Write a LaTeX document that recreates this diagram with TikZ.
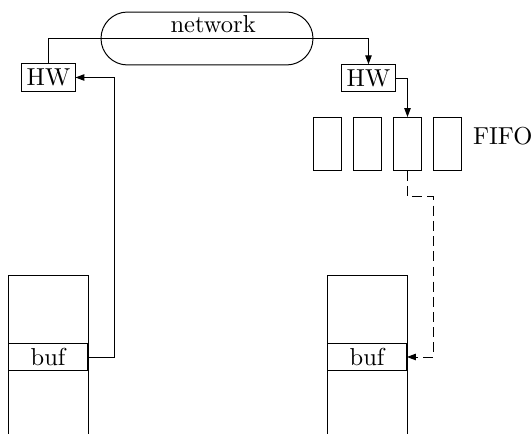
\documentclass[tikz,border=0pt]{standalone}
\usetikzlibrary{arrows.meta,positioning}

\begin{document}
\begin{tikzpicture}[
      x=0.408pt,y=-0.408pt,
      box/.style={draw,inner sep=0pt,outer sep=0pt,minimum width=22pt,minimum height=11.2pt},
      cell/.style={draw,inner sep=0pt,outer sep=0pt,minimum width=11.8pt,minimum height=22pt},
      bufbox/.style={draw,inner sep=0pt,outer sep=0pt,minimum width=32.6pt,minimum height=11.4pt},
      pill/.style={draw,rounded corners=10.8pt,inner xsep=0pt,inner ysep=0pt,
        minimum width=86.5pt,minimum height=21.6pt,text depth=12.2pt},
      arrow/.style={-{Triangle[length=3.6pt,width=2.6pt]}}
    ]
      \useasboundingbox (0,0) rectangle (532,434);
      \node[pill] (net) at (207,38.5) {\hspace*{5pt}network};
      \node[box] (lhw) at (48.5,77.5) {HW};
      \node[box] (rhw) at (368.5,78) {HW};
      % FIFO cells
      \foreach \i in {1,...,4}
        \node[cell] (f\i) at (287.5+40*\i,144) {};
      \node[right=1pt of f4,yshift=3.4pt] (fifo) {FIFO};
      % memory stacks
      \node[bufbox] (lbuf) at (48,357) {buf};
      \node[bufbox] (rbuf) at (367,357) {buf};
      \foreach \b in {lbuf,rbuf}
        \draw (\b.south west) ++(0,64) -- ++(0,-159) -- ++(80,0) -- ++(0,159);
      % connectors
      \draw[arrow] (lhw.north) |- (net.center) -| (rhw.north);
      \draw[arrow] (rhw.east) -| (f3.north);
      \draw[arrow,dash pattern=on 4pt off 2.2pt] (f3.south) -- ++(0,26) -- ++(26,0) |- (rbuf.east);
      \draw[arrow] (lbuf.east) -- ++(27,0) |- (lhw.east);
    \end{tikzpicture}
\end{document}
